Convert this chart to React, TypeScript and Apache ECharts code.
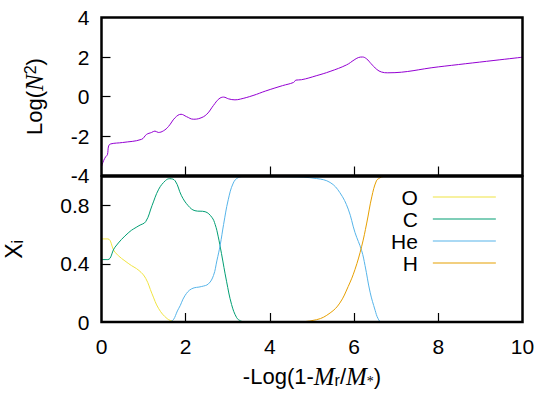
import React, { useEffect, useRef } from 'react';
import * as echarts from 'echarts';

// Top panel: Log(N^2) profile
const N2_X = [0, 0.05, 0.1, 0.14, 0.17, 0.22, 0.5, 0.95, 1.07, 1.19, 1.27, 1.35, 1.47, 1.59, 1.75, 1.89, 2.02, 2.18, 2.34, 2.5, 2.66, 2.79, 2.9, 3.02, 3.17, 3.3, 3.6, 3.9, 4.3, 4.56, 4.62, 4.75, 5.1, 5.43, 5.82, 6.0, 6.1, 6.2, 6.3, 6.4, 6.54, 6.65, 6.8, 8.0, 10];
const N2_Y = [-3.55, -3.25, -3.05, -2.95, -2.5, -2.4, -2.33, -2.17, -1.92, -1.82, -1.75, -1.82, -1.74, -1.52, -1.07, -0.9, -1.02, -1.15, -1.1, -0.9, -0.45, -0.12, -0.03, -0.12, -0.17, -0.13, 0.05, 0.28, 0.55, 0.71, 0.83, 0.85, 1.05, 1.27, 1.6, 1.85, 1.97, 2.0, 1.9, 1.67, 1.37, 1.24, 1.2, 1.5, 1.99];

// Bottom panel: mass fractions
const O_X = [0, 0.15, 0.32, 0.65, 0.89, 1.05, 1.2, 1.36, 1.56, 1.72, 1.8, 10];
const O_Y = [0.571, 0.571, 0.48, 0.4, 0.354, 0.3, 0.194, 0.091, 0.023, 0.003, 0, 0];

const C_X = [0, 0.15, 0.32, 0.65, 0.89, 1.05, 1.2, 1.36, 1.52, 1.62, 1.75, 1.9, 2.06, 2.22, 2.46, 2.62, 2.7, 2.77, 2.85, 2.97, 3.09, 3.21, 3.3, 3.4, 10];
const C_Y = [0.429, 0.429, 0.514, 0.616, 0.662, 0.69, 0.8, 0.913, 0.972, 0.985, 0.97, 0.868, 0.799, 0.765, 0.758, 0.72, 0.67, 0.59, 0.47, 0.28, 0.12, 0.03, 0.008, 0, 0];

const HE_X = [0, 1.6, 1.83, 1.98, 2.14, 2.38, 2.54, 2.66, 2.74, 2.82, 2.9, 3.01, 3.13, 3.25, 3.4, 4.5, 5.11, 5.43, 5.66, 5.86, 6.02, 6.18, 6.26, 6.38, 6.5, 6.57, 6.65, 10];
const HE_Y = [0, 0, 0.091, 0.18, 0.228, 0.244, 0.262, 0.32, 0.42, 0.53, 0.67, 0.84, 0.955, 0.993, 1, 0.998, 0.986, 0.959, 0.89, 0.776, 0.616, 0.49, 0.388, 0.205, 0.08, 0.023, 0, 0];

const H_X = [0, 4.5, 5.11, 5.43, 5.66, 5.86, 6.02, 6.18, 6.3, 6.42, 6.53, 6.61, 6.7, 10];
const H_Y = [0, 0, 0.016, 0.062, 0.13, 0.244, 0.36, 0.52, 0.68, 0.86, 0.97, 0.99, 1, 1];

const LEGEND_NAMES = ['O', 'C', 'He', 'H'];
const COLORS = { N2: '#9400d3', O: '#f0e442', C: '#009e73', He: '#56b4e9', H: '#e69f00' };

// Axis ranges and inner tick positions
const X_MIN = 0, X_MAX = 10, X_STEP = 2;
const Y1_MIN = -4, Y1_MAX = 4, Y1_STEP = 2;
const Y2_MIN = 0, Y2_MAX = 1, Y2_STEP = 0.4;
const X_TICKS = [2, 4, 6, 8];
const Y1_TICKS = [-2, 0, 2];
const Y2_TICKS = [0.4, 0.8];

const SANS = 'Liberation Sans';
const SERIF = 'Liberation Serif';

const G_LEFT = 101.5;
const G_W = 421;
const G1_TOP = 17.5;
const G1_H = 158;
const G2_TOP = 176.5;
const G2_H = 145.5;
const TICK_LEN = 9;

const pairs = (xs: number[], ys: number[]) => xs.map((x, i) => [x, ys[i]]);

export default function App() {
  const ref = useRef<HTMLDivElement>(null);
  useEffect(() => {
    const chart = echarts.init(ref.current!, null, { renderer: 'svg' });
    const noLine = () => ({ show: false, onZero: false });
    const labelStyle = { color: '#000', fontSize: 21, fontFamily: SANS };
    const rich = {
      it: { fontFamily: SERIF, fontStyle: 'italic', fontSize: 25, color: '#000' },
      sup: { fontFamily: SANS, fontSize: 16, verticalAlign: 'top', lineHeight: 10, color: '#000' },
      sub: { fontFamily: SANS, fontSize: 16, verticalAlign: 'bottom', lineHeight: 8, color: '#000' },
      star: { fontFamily: SERIF, fontSize: 14, verticalAlign: 'bottom', lineHeight: 12, color: '#000' },
    };

    // inward tick marks, expressed in data units of each panel
    const dx = (TICK_LEN * (X_MAX - X_MIN)) / G_W;
    const dy1 = (TICK_LEN * (Y1_MAX - Y1_MIN)) / G1_H;
    const dy2 = (TICK_LEN * (Y2_MAX - Y2_MIN)) / G2_H;
    const tickMarks = (yMin: number, dy: number, yTicks: number[]) => ({
      silent: true,
      symbol: ['none', 'none'],
      label: { show: false },
      lineStyle: { color: '#000', width: 1.2, type: 'solid' },
      emphasis: { disabled: true },
      data: [
        ...X_TICKS.map((v) => [{ coord: [v, yMin] }, { coord: [v, yMin + dy] }]),
        ...yTicks.map((v) => [{ coord: [X_MIN, v] }, { coord: [X_MIN + dx, v] }]),
      ],
    });

    const lineSeries = (name: string, xs: number[], ys: number[], color: string, idx: number, markLine?: any) => ({
      name,
      type: 'line',
      xAxisIndex: idx,
      yAxisIndex: idx,
      data: pairs(xs, ys),
      showSymbol: false,
      symbol: 'none',
      smooth: 0.4,
      lineStyle: { color, width: 1 },
      itemStyle: { color },
      z: 3,
      ...(markLine ? { markLine } : {}),
    });
    chart.setOption({
      animation: false,
      textStyle: { fontFamily: SANS },
      grid: [
        { left: G_LEFT, top: G1_TOP, width: G_W, height: G1_H, outerBoundsMode: 'none', containLabel: false },
        { left: G_LEFT, top: G2_TOP, width: G_W, height: G2_H, outerBoundsMode: 'none', containLabel: false },
      ],
      xAxis: [
        {
          gridIndex: 0, type: 'value', position: 'bottom', min: X_MIN, max: X_MAX, interval: X_STEP,
          axisLine: noLine(), axisTick: { show: false }, axisLabel: { show: false }, splitLine: { show: false },
        },
        {
          gridIndex: 1, type: 'value', position: 'bottom', min: X_MIN, max: X_MAX, interval: X_STEP,
          axisLine: noLine(), axisTick: { show: false }, splitLine: { show: false },
          axisLabel: { ...labelStyle, margin: 14 },
          name: '-Log(1-{it|M}{sub|r}/{it|M}{star|*})',
          nameLocation: 'middle', nameGap: 42,
          nameTextStyle: { ...labelStyle, fontSize: 22, lineHeight: 24, rich },
        },
      ],
      yAxis: [
        {
          gridIndex: 0, type: 'value', position: 'left', min: Y1_MIN, max: Y1_MAX, interval: Y1_STEP,
          axisLine: noLine(), axisTick: { show: false }, splitLine: { show: false },
          axisLabel: { ...labelStyle, margin: 12 },
          name: 'Log({it|N}{sup|2})',
          nameLocation: 'middle', nameGap: 55,
          nameTextStyle: { ...labelStyle, fontSize: 22, lineHeight: 24, rich },
        },
        {
          gridIndex: 1, type: 'value', position: 'left', min: Y2_MIN, max: Y2_MAX, interval: Y2_STEP,
          axisLine: noLine(), axisTick: { show: false }, splitLine: { show: false },
          axisLabel: {
            ...labelStyle, margin: 12,
            formatter: (v: number) => (Math.abs(v - Y2_MAX) < 1e-9 ? '' : v === 0 ? '0' : v.toFixed(1)),
          },
          name: 'X{sub|i}',
          nameLocation: 'middle', nameGap: 76,
          nameTextStyle: { ...labelStyle, fontSize: 23, lineHeight: 24, rich },
        },
      ],
      legend: {
        data: LEGEND_NAMES,
        orient: 'vertical',
        align: 'right',
        left: 391,
        top: 186,
        padding: 0,
        itemGap: 0,
        itemWidth: 63,
        itemHeight: 1.2,
        icon: 'rect',
        selectedMode: false,
        textStyle: { color: '#000', fontSize: 21, fontFamily: SANS, lineHeight: 22, padding: [0, 10, 0, 0] },
      },
      series: [
        lineSeries('N2', N2_X, N2_Y, COLORS.N2, 0, tickMarks(Y1_MIN, dy1, Y1_TICKS)),
        lineSeries('O', O_X, O_Y, COLORS.O, 1, tickMarks(Y2_MIN, dy2, Y2_TICKS)),
        lineSeries('C', C_X, C_Y, COLORS.C, 1),
        lineSeries('He', HE_X, HE_Y, COLORS.He, 1),
        lineSeries('H', H_X, H_Y, COLORS.H, 1),
      ],
      graphic: [
        {
          type: 'rect', z: 100, silent: true,
          shape: { x: G_LEFT, y: G1_TOP, width: G_W, height: G1_H },
          style: { fill: 'none', stroke: '#000', lineWidth: 2.5 },
        },
        {
          type: 'rect', z: 100, silent: true,
          shape: { x: G_LEFT, y: G2_TOP, width: G_W, height: G2_H },
          style: { fill: 'none', stroke: '#000', lineWidth: 2.5 },
        },
      ],
    });
    return () => chart.dispose();
  }, []);
  return <div ref={ref} style={{ position: 'absolute', left: 0, top: 0, width: 542, height: 394 }} />;
}
